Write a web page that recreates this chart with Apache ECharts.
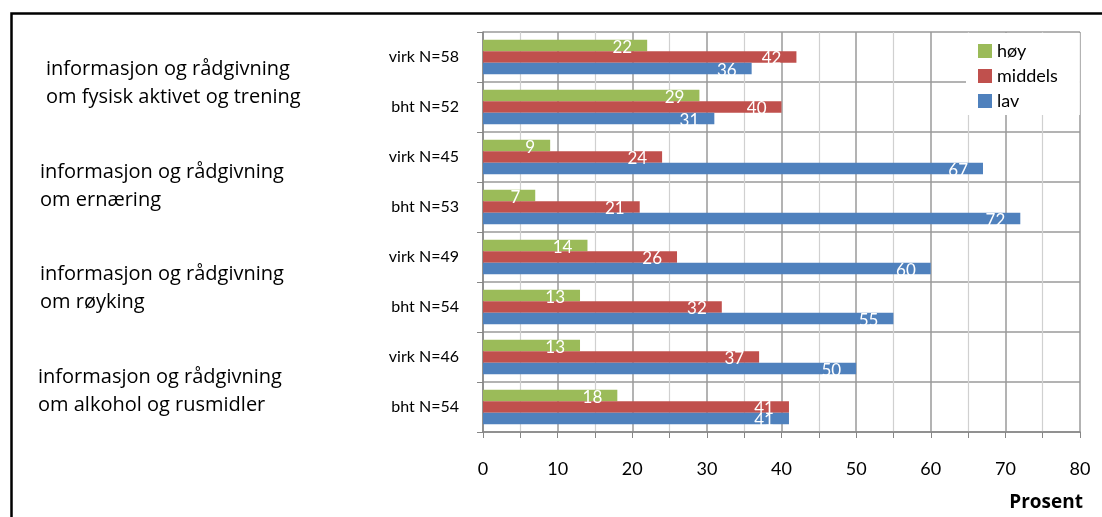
<!DOCTYPE html>
<html>
<head>
<meta charset="utf-8">
<script src="https://cdn.jsdelivr.net/npm/echarts@6/dist/echarts.min.js"></script>
<style>html,body{margin:0;padding:0;background:#fff;}#c{width:1102px;height:517px;}</style>
</head>
<body>
<div id="c"></div>
<script>
const categories = ['virk N=58', 'bht N=52', 'virk N=45', 'bht N=53', 'virk N=49', 'bht N=54', 'virk N=46', 'bht N=54'];
const hoy = [22, 29, 9, 7, 14, 13, 13, 18];
const middels = [42, 40, 24, 21, 26, 32, 37, 41];
const lav = [36, 31, 67, 72, 60, 55, 50, 41];
const seriesNames = ['høy', 'middels', 'lav'];
const xTicks = [0, 10, 20, 30, 40, 50, 60, 70, 80];
const groupLabels = [
  ['informasjon og rådgivning', 'om fysisk aktivet og trening'],
  ['informasjon og rådgivning', 'om ernæring'],
  ['informasjon og rådgivning', 'om røyking'],
  ['informasjon og rådgivning', 'om alkohol og rusmidler']
];

const FONT = 'Lato, "Open Sans", sans-serif';
const FONT2 = '"Open Sans", Lato, sans-serif';
const colors = ['#9BBB59', '#C0504D', '#4F81BD'];
const chart = echarts.init(document.getElementById('c'));

function mkSeries(name, data, color) {
  return {
    name: name, type: 'bar', data: data,
    barCategoryGap: '31%', barGap: '0%',
    itemStyle: { color: color },
    label: {
      show: true, position: 'insideRight', distance: 15, offset: [0, 2],
      color: '#fff', fontSize: 17, fontFamily: FONT
    }
  };
}

const groupPos = [[46, 70], [40, 173], [40, 275], [38, 378]];
const graphics = [{
  type: 'rect', left: 9, top: 11, z: 100,
  shape: { x: 0, y: 0, width: 1200, height: 600 },
  style: { fill: 'none', stroke: '#000', lineWidth: 2.5 }
}, {
  type: 'text', right: 19, top: 493,
  style: { text: 'Prosent', font: 'bold 19px ' + FONT2, fill: '#000' }
}];
groupLabels.forEach((g, i) => {
  graphics.push({
    type: 'text', left: groupPos[i][0], top: groupPos[i][1] - 15,
    style: { text: g.join('\n'), font: '20px ' + FONT2, lineHeight: 28, fill: '#000' }
  });
});

chart.setOption({
  animation: false,
  textStyle: { fontFamily: FONT },
  grid: { left: 483, right: 22, top: 32, bottom: 85, containLabel: false },
  legend: {
    orient: 'vertical', left: 966, top: 33,
    data: seriesNames,
    backgroundColor: '#fff',
    padding: [9, 22, 5, 12],
    itemWidth: 14, itemHeight: 14, itemGap: 7,
    textStyle: { fontSize: 18, color: '#000', fontFamily: FONT },
    icon: 'rect'
  },
  xAxis: {
    type: 'value', min: 0, max: 80, interval: 10,
    axisLine: { show: true, lineStyle: { color: '#868686', width: 1.5 } },
    axisTick: { show: true, length: 6, lineStyle: { color: '#868686' } },
    minorTick: { show: true, splitNumber: 2, length: 6, lineStyle: { color: '#868686' } },
    splitLine: { show: true, lineStyle: { color: '#9a9a9a', width: 1.5 } },
    minorSplitLine: { show: true, lineStyle: { color: '#d0d0d0', width: 1.2 } },
    axisLabel: {
      fontSize: 18, color: '#000', margin: 28, fontFamily: FONT,
      formatter: v => xTicks.includes(v) ? String(v) : ''
    }
  },
  yAxis: {
    type: 'category', inverse: true, data: categories,
    axisLine: { show: true, lineStyle: { color: '#868686', width: 1.5 } },
    axisTick: { show: true, length: 6, lineStyle: { color: '#868686' } },
    splitLine: { show: true, lineStyle: { color: '#9a9a9a', width: 1.5 } },
    axisLabel: { fontSize: 16, color: '#000', margin: 24, fontFamily: FONT }
  },
  series: [
    mkSeries(seriesNames[0], hoy, colors[0]),
    mkSeries(seriesNames[1], middels, colors[1]),
    mkSeries(seriesNames[2], lav, colors[2])
  ],
  graphic: graphics
});
</script>
</body>
</html>
